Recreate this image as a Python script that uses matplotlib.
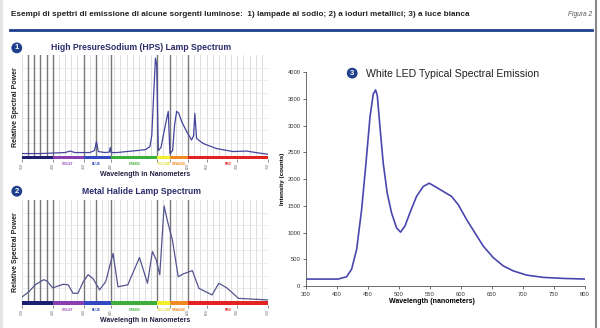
import matplotlib
matplotlib.use("Agg")
import matplotlib.pyplot as plt
import numpy as np
from matplotlib.lines import Line2D

plt.rcParams['font.family'] = ['Liberation Sans', 'DejaVu Sans']

# --- data --------------------------------------------------------------
# 1) high pressure sodium (relative power)
hps_nm = [350, 380, 400, 420, 428, 436, 460, 468, 471, 474, 485, 492, 493.5, 495,
          505, 520, 538, 551, 558, 561, 564, 567, 569, 571.6, 576, 579.7, 584,
          587.8, 590.5, 594.9, 598, 601.4, 605, 609.5, 617.6, 625.7, 629, 631,
          633.8, 644.6, 666, 693, 715, 730, 750]
hps_val = [0.02, 0.02, 0.025, 0.03, 0.045, 0.03, 0.03, 0.05, 0.14, 0.04, 0.03, 0.035, 0.08, 0.03,
           0.03, 0.04, 0.05, 0.06, 0.09, 0.2, 0.6, 0.97, 0.9, 0.05, 0.08, 0.2, 0.33,
           0.44, 0.02, 0.05, 0.3, 0.44, 0.42, 0.34, 0.24, 0.155, 0.2, 0.42,
           0.17, 0.12, 0.07, 0.04, 0.045, 0.03, 0.013]

# 2) metal halide (relative power)
mh_nm = [350, 361, 371.5, 385, 390, 400, 417, 425, 433, 441, 449.5, 457.5, 465.6, 476,
         486, 498, 506, 522, 541, 554, 562, 568, 574, 581, 586.5, 594.6, 604, 613,
         627, 637.6, 659, 670, 683, 702, 750]
mh_val = [0.04, 0.09, 0.16, 0.21, 0.2, 0.13, 0.165, 0.16, 0.076, 0.076, 0.19, 0.26, 0.22, 0.11,
          0.19, 0.47, 0.14, 0.16, 0.43, 0.175, 0.49, 0.41, 0.26, 0.94, 0.79, 0.6, 0.24, 0.27,
          0.3, 0.125, 0.06, 0.175, 0.13, 0.026, 0.01]

# 3) white LED (counts)
led_nm = [348, 402, 415.5, 423.6, 431.7, 439.7, 446.7, 453.2, 458.5, 462.3, 465, 469.3,
          474.6, 481, 488, 496, 502.5, 509.5, 517.5, 528.3, 539, 548.8, 558, 571.4,
          584.8, 595.6, 609, 622.4, 635.8, 652, 668, 684, 706, 733, 765, 801]
led_val = [130, 130, 173, 315, 686, 1428, 2294, 3160, 3593, 3667, 3562, 2974,
           2294, 1737, 1366, 1088, 1008, 1119, 1366, 1676, 1861, 1923, 1861, 1769,
           1676, 1521, 1243, 996, 748, 532, 377, 284, 204, 161, 142, 130]
led_ticks = [350, 400, 450, 500, 550, 600, 650, 700, 750, 800]
led_tick_labels = ["300", "400", "450", "500", "550", "600", "650", "700", "750", "800"]

# spectrum colour band below the first two charts
band_start = [350, 400, 450, 495, 570, 590, 620]
band_end = [400, 450, 495, 570, 590, 620, 750]
band_colors = ["#1c1f6e", "#8a3fb0", "#3348c0", "#3cae3a", "#f2ee2a", "#f08a22", "#e2231f"]
band_names = ["VIOLET", "BLUE", "GREEN", "YELLOW", "ORANGE", "RED"]
band_name_x = [425, 471, 533, 580, 605, 685]
band_name_colors = ["#8a3fb0", "#3348c0", "#3cae3a", "#e0d820", "#f08a22", "#e2231f"]
dark_lines = [360, 370, 380, 390, 400, 450, 471, 495, 570, 590, 620]
spec_ticks = [350, 400, 450, 495, 570, 590, 620, 650, 700, 750]
spec_tick_labels = ["350", "400", "450", "495", "", "", "620", "650", "700", "750"]

NAVY = "#1d3f8c"


def spectrum_panel(ax, x, y, color):
    ax.set_xlim(350, 750)
    ax.set_ylim(-0.035, 1.0)
    for v in np.arange(350, 751, 10):
        ax.axvline(v, color="#d0d0d0", lw=0.5, zorder=0)
    for h in np.arange(0.125, 1.0, 0.125):
        ax.axhline(h, color="#e6e6e6", lw=0.5, zorder=0)
    for v in dark_lines:
        ax.axvline(v, color="#777777", lw=1.0, zorder=1)
    ax.barh(-0.0175, [e - s for s, e in zip(band_start, band_end)], left=band_start,
            height=0.035, color=band_colors, zorder=2)
    ax.plot(x, y, color=color, lw=0.9, zorder=3)
    ax.set_xticks(spec_ticks)
    ax.set_xticklabels(spec_tick_labels, rotation=90, fontsize=2.5, color="#666666")
    ax.tick_params(axis="x", length=2.5, width=0.6, color="#777777", pad=0.5)
    ax.set_yticks([])
    for s in ax.spines.values():
        s.set_visible(False)
    for name, nx, nc in zip(band_names, band_name_x, band_name_colors):
        ax.text(nx, -0.085, name, fontsize=2.3, color=nc, ha="center", va="center",
                fontweight="bold")
    ax.set_xlabel("Wavelength in Nanometers", fontsize=5, fontweight="bold",
                  color="#222244", labelpad=1.5)
    ax.set_ylabel("Relative Spectral Power", fontsize=5, fontweight="bold",
                  color="#222222", labelpad=2)


fig = plt.figure(figsize=(6, 3.28), dpi=100)
fig.patch.set_facecolor("white")

# page frame
fig.add_artist(plt.Rectangle((0, 0), 0.005, 1, transform=fig.transFigure,
                             color="#e4e4e4", lw=0))
fig.add_artist(Line2D([0.9935, 0.9935], [0, 1], transform=fig.transFigure,
                      color="#8a8a8a", lw=1.5))

# heading
fig.text(0.018, 0.957,
         "Esempi di spettri di emissione di alcune sorgenti luminose:  1) lampade al sodio; "
         "2) a ioduri metallici; 3) a luce bianca",
         fontsize=5.9, fontweight="bold", color="#222222", va="center")
fig.text(0.987, 0.957, "Figura 2", fontsize=4.8, style="italic", color="#555555",
         ha="right", va="center")
fig.add_artist(Line2D([0.017, 0.987], [0.9085, 0.9085], transform=fig.transFigure,
                      color=NAVY, lw=2.0))

# panel 1
ax1 = fig.add_axes([0.0367, 0.515, 0.41, 0.317])
spectrum_panel(ax1, hps_nm, hps_val, "#44449c")
fig.text(0.235, 0.854, "High PresureSodium (HPS) Lamp Spectrum", fontsize=6.2,
         fontweight="bold", color="#2b2b6b", ha="center", va="center")

# panel 2
ax2 = fig.add_axes([0.0367, 0.0716, 0.41, 0.319])
spectrum_panel(ax2, mh_nm, mh_val, "#55558f")
fig.text(0.235, 0.415, "Metal Halide Lamp Spectrum", fontsize=6.2,
         fontweight="bold", color="#2b2b6b", ha="center", va="center")

# panel 3
ax3 = fig.add_axes([0.51, 0.128, 0.465, 0.652])
ax3.plot(led_nm, led_val, color="#4a46b0", lw=1.2)
ax3.set_xlim(350, 800)
ax3.set_ylim(0, 4000)
ax3.set_xticks(led_ticks)
ax3.set_xticklabels(led_tick_labels)
ax3.set_yticks(np.arange(0, 4001, 500))
ax3.tick_params(labelsize=4.2, length=2, width=0.5, colors="#333333", pad=2)
for side in ["top", "right"]:
    ax3.spines[side].set_visible(False)
for side in ["left", "bottom"]:
    ax3.spines[side].set_linewidth(0.6)
    ax3.spines[side].set_color("#555555")
ax3.set_xlabel("Wavelength (nanometers)", fontsize=5, fontweight="bold", labelpad=1.5)
ax3.xaxis.set_label_coords(0.45, -0.055)
ax3.set_ylabel("Intensity (counts)", fontsize=4.5, fontweight="bold", labelpad=2)
fig.text(0.755, 0.774, "White LED Typical Spectral Emission", fontsize=7.6,
         color="#222222", ha="center", va="center")

# numbered markers
for num, (nx, ny) in zip(["1", "2", "3"], [(0.028, 0.854), (0.028, 0.417), (0.587, 0.777)]):
    fig.text(nx, ny, num, fontsize=5.5, fontweight="bold", color="white", ha="center",
             va="center", bbox=dict(boxstyle="circle,pad=0.25", fc=NAVY, ec="none"))

fig.savefig("out.png", dpi=100, facecolor="white")
